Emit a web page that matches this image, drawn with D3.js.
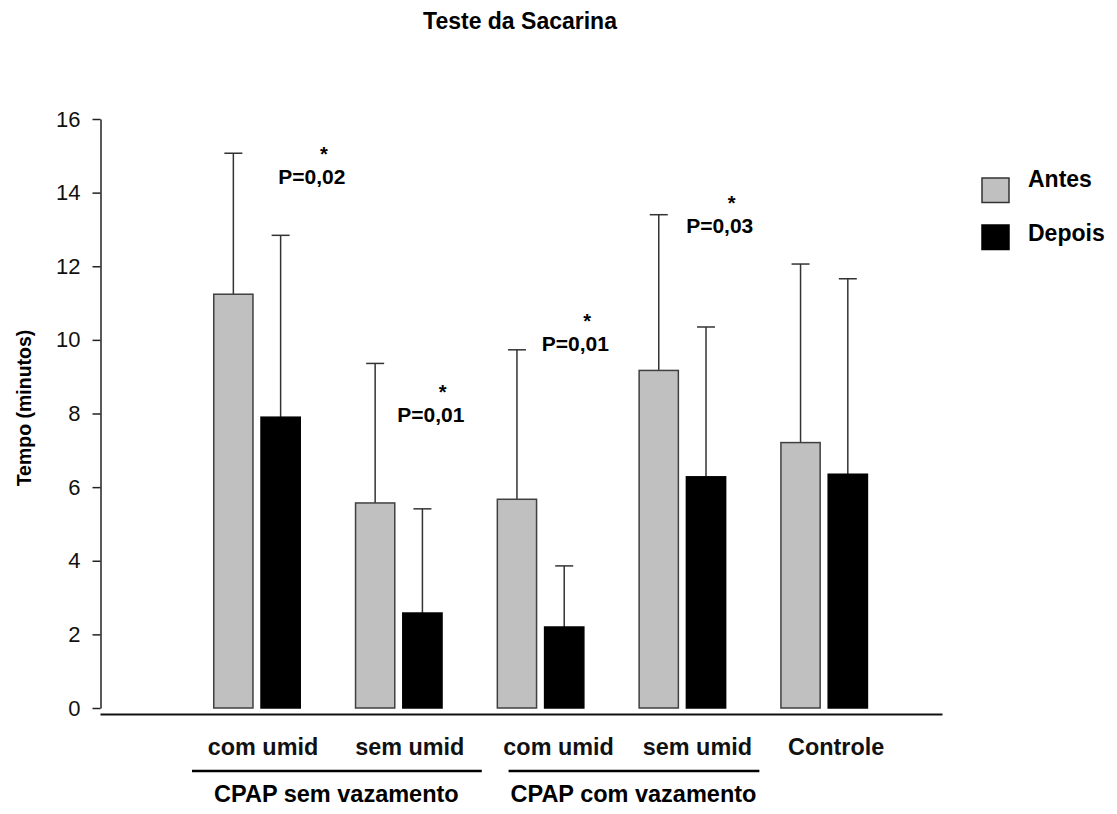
<!DOCTYPE html>
<html>
<head>
<meta charset="utf-8">
<script src="https://cdn.jsdelivr.net/npm/d3@7"></script>
<style>
  body { margin: 0; background: #fff; }
  svg text { font-family: "Liberation Sans", Arial, sans-serif; }
</style>
</head>
<body>
<div id="chart"></div>
<script>
// data
const categories = ["com umid", "sem umid", "com umid", "sem umid", "Controle"];
const series = ["Antes", "Depois"];
const antes = [11.24, 5.57, 5.67, 9.17, 7.21];
const depois = [7.9, 2.58, 2.2, 6.28, 6.35];
const antesSD = [3.83, 3.79, 4.06, 4.23, 4.85];
const depoisSD = [4.94, 2.83, 1.66, 4.07, 5.31];
const yTicks = [0, 2, 4, 6, 8, 10, 12, 14, 16];
const groupNames = ["CPAP sem vazamento", "CPAP com vazamento"];
const groupMembers = [[0, 1], [2, 3]];
const pLabels = ["P=0,02", "P=0,01", "P=0,01", "P=0,03"];
const pLevels = [14.23, 7.78, 9.71, 12.91];

const width = 1117, height = 814;
const colors = { Antes: "#c0c0c0", Depois: "#000000" };

const svg = d3.select("#chart").append("svg")
  .attr("width", width)
  .attr("height", height);

const y = d3.scaleLinear().domain([0, 16]).range([708, 119]);

const idx = categories.map((d, i) => i);
const x0 = d3.scaleBand()
  .domain(idx)
  .range([100, 942])
  .paddingInner(0.39)
  .paddingOuter(0.664)
  .align(0.604);
const x1 = d3.scaleBand()
  .domain(series)
  .range([0, x0.bandwidth()])
  .paddingInner(0.17);

// title
svg.append("text")
  .attr("x", 520).attr("y", 29)
  .attr("text-anchor", "middle")
  .style("font-size", "23px").style("font-weight", "bold")
  .text("Teste da Sacarina");

// y axis
const yAxis = svg.append("g")
  .attr("transform", "translate(100.5,0)")
  .call(d3.axisLeft(y).tickValues(yTicks).tickSize(8).tickSizeOuter(0).tickPadding(12));
yAxis.select(".domain").attr("stroke", "#222").attr("stroke-width", 1.5);
yAxis.selectAll(".tick line").attr("stroke", "#222").attr("stroke-width", 1.5);
yAxis.selectAll("text").style("font-size", "22px").attr("fill", "#111");

svg.append("text")
  .attr("transform", "translate(31,408) rotate(-90)")
  .attr("text-anchor", "middle")
  .style("font-size", "19.5px").style("font-weight", "bold")
  .text("Tempo (minutos)");

// x axis
const labelDx = [6, 11, 18, 15, 12];
const xAxis = svg.append("g")
  .attr("transform", "translate(0,714)")
  .call(d3.axisBottom(x0).tickSize(0).tickSizeOuter(0).tickFormat(i => categories[i]));
xAxis.select(".domain").attr("stroke", "#111").attr("stroke-width", 2);
xAxis.selectAll("text")
  .attr("dx", (d, i) => labelDx[i]).attr("y", 41).attr("dy", 0)
  .style("font-size", "23.4px").style("font-weight", "bold").attr("fill", "#111");

// bars
const rows = idx.map(i => ({
  i,
  vals: [
    { s: "Antes", v: antes[i], sd: antesSD[i] },
    { s: "Depois", v: depois[i], sd: depoisSD[i] }
  ]
}));

const g = svg.selectAll(".grp").data(rows).enter().append("g")
  .attr("transform", d => `translate(${x0(d.i)},0)`);

const cap = 9;
g.selectAll(".err").data(d => d.vals).enter().append("g")
  .each(function(d) {
    const cx = x1(d.s) + x1.bandwidth() / 2;
    const el = d3.select(this);
    el.append("line")
      .attr("x1", cx).attr("x2", cx)
      .attr("y1", y(d.v)).attr("y2", y(d.v + d.sd))
      .attr("stroke", "#333").attr("stroke-width", 1.5);
    el.append("line")
      .attr("x1", cx - cap).attr("x2", cx + cap)
      .attr("y1", y(d.v + d.sd)).attr("y2", y(d.v + d.sd))
      .attr("stroke", "#333").attr("stroke-width", 1.5);
  });

g.selectAll("rect").data(d => d.vals).enter().append("rect")
  .attr("x", d => x1(d.s))
  .attr("y", d => y(d.v))
  .attr("width", x1.bandwidth())
  .attr("height", d => y(0) - y(d.v))
  .attr("fill", d => colors[d.s])
  .attr("stroke", d => d.s == "Antes" ? "#404040" : "#000")
  .attr("stroke-width", 1.5);

// p-value annotations
const pDx = [64.6, 41.7, 44.4, 47];
pLabels.forEach((t, i) => {
  const lx = x0(i) + pDx[i];
  svg.append("text")
    .attr("x", lx).attr("y", y(pLevels[i]))
    .style("font-size", "21px").style("font-weight", "bold")
    .text(t);
  svg.append("text")
    .attr("x", lx + 45.5).attr("y", y(pLevels[i]) - 23)
    .attr("text-anchor", "middle")
    .style("font-size", "20px").style("font-weight", "bold")
    .text("*");
});

// group brackets
const groupExt = [[-65, 83], [-32, 77]];
groupNames.forEach((name, k) => {
  const a = groupMembers[k][0], b = groupMembers[k][groupMembers[k].length - 1];
  const xa = x0(a) + x0.bandwidth() / 2 + groupExt[k][0];
  const xb = x0(b) + x0.bandwidth() / 2 + groupExt[k][1];
  svg.append("line")
    .attr("x1", xa).attr("x2", xb)
    .attr("y1", 771).attr("y2", 771)
    .attr("stroke", "#000").attr("stroke-width", 2.5);
  svg.append("text")
    .attr("x", (xa + xb) / 2 - 0.5).attr("y", 802)
    .attr("text-anchor", "middle")
    .style("font-size", "23.5px").style("font-weight", "bold")
    .text(name);
});

// legend
const legend = svg.append("g").attr("transform", "translate(982,178)");
series.forEach((s, i) => {
  legend.append("rect")
    .attr("x", 0).attr("y", i * 47)
    .attr("width", 27).attr("height", 24.5)
    .attr("fill", colors[s])
    .attr("stroke", s == "Antes" ? "#333" : "#000")
    .attr("stroke-width", 1.5);
  legend.append("text")
    .attr("x", 46).attr("y", 9 + i * 54)
    .style("font-size", "23px").style("font-weight", "bold")
    .text(s);
});
</script>
</body>
</html>
